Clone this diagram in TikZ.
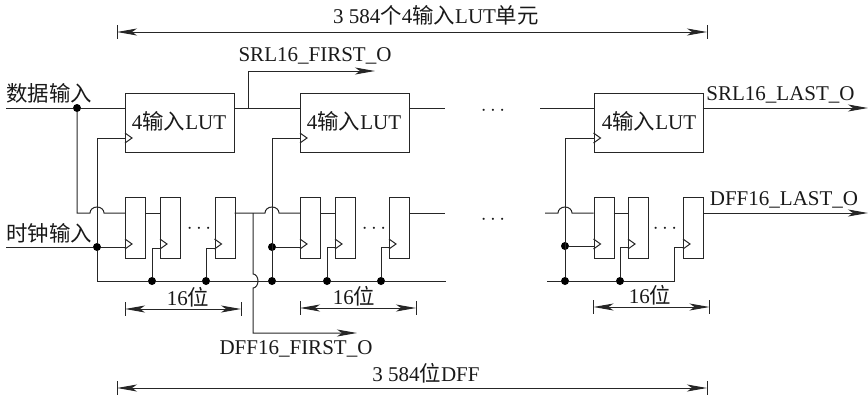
\documentclass[tikz,border=0pt]{standalone}
\usepackage{fontspec}
\setmainfont{Liberation Serif}
\newfontfamily\cjk{Noto Sans CJK SC}[Scale=1.02]
\usetikzlibrary{arrows.meta,calc}
\newcommand\zh[1]{{\cjk #1}}
\tikzset{
  x=1pt,y=-1pt,
  wire/.style={line width=1pt,black!85},
  lutbox/.style={draw=black!85,line width=1pt,minimum width=109pt,minimum height=59pt,inner sep=0pt,anchor=north west},
  ffbox/.style={draw=black!85,line width=1pt,minimum width=20pt,minimum height=61pt,inner sep=0pt,anchor=north west},
  dotn/.style={circle,fill=black,inner sep=0pt,minimum size=8pt},
  lab/.style={font=\fontsize{21}{22}\selectfont,inner sep=0pt,text=black!90},
  sharp/.style={-{Stealth[length=20pt,width=7pt,inset=5pt]}},
  dimarrow/.style={{Stealth[length=20pt,width=7pt,inset=5pt]}-{Stealth[length=20pt,width=7pt,inset=5pt]}},
}
\newcommand\clk[1]{\draw[wire] ($(#1)+(0,-5)$) -- ++(7,5) -- ++(-7,5);}
\newcommand\dimline[3]{%
  \coordinate (#1a) at (#2);\coordinate (#1b) at (#3);
  \draw[wire,dimarrow] (#1a) -- (#1b);
  \draw[wire] ($(#1a)+(0,-7)$) -- ($(#1a)+(0,7)$);
  \draw[wire] ($(#1b)+(0,-7)$) -- ($(#1b)+(0,7)$);}
\begin{document}
\begin{tikzpicture}
\useasboundingbox (0,0) rectangle (868,399);
% boxes
\node[lutbox] (L1) at (125,93) {};
\node[lutbox] (L2) at (300,93) {};
\node[lutbox] (L3) at (593.5,93) {};
\foreach \n/\x in {a1/125,a2/160,a3/214.5,b1/300,b2/335,b3/389,c1/593.5,c2/628,c3/683}{
  \node[ffbox] (\n) at (\x,197) {};
}
% free ends and junctions
\coordinate (din) at (6,108);
\coordinate (cin) at (6,247);
\node[dotn] (jd) at (77,108) {};
\node[dotn] (jc1) at (97,247) {};
\node[dotn] (jc2) at (272,247) {};
\node[dotn] (jc3) at (565,246) {};
\node[dotn] (jb1) at (152,281) {};
\node[dotn] (jb2) at (206,281) {};
\node[dotn] (jb3) at (272,281) {};
\node[dotn] (jb4) at (327,281) {};
\node[dotn] (jb5) at (381,281) {};
\node[dotn] (jb6) at (565,281) {};
\node[dotn] (jb7) at (620,281) {};
% LUT row
\draw[wire] (din) -- (jd) -- (125,108);
\draw[wire] (234,108) -- (300,108);
\draw[wire] (409,108) -- (445,108);
\draw[wire] (540,108) -- (593.5,108);
\draw[wire,sharp] (248,108) -- (248,71) -- (375,71);
\draw[wire,sharp] (702.5,108) -- (868,108);
% LUT clocks
\draw[wire] (jc1) -- (97,138) -- (125,138);
\draw[wire] (jb3) -- (272,138) -- (300,138);
\draw[wire] (jb6) -- (565,138) -- (593.5,138);
\clk{125,138}\clk{300,138}\clk{593.5,138}
% DFF row data
\draw[wire] (jd) -- (77,213) -- (90,213) arc[start angle=180,end angle=0,radius=7pt,y radius=6pt] -- (125,213);
\draw[wire] (145,213) -- (160,213);
\draw[wire] (234.5,213) -- (265,213) arc[start angle=180,end angle=0,radius=7pt,y radius=6pt] -- (300,213);
\draw[wire] (320,213) -- (335,213);
\draw[wire] (409,213) -- (445,213);
\draw[wire] (545,213) -- (558,213) arc[start angle=180,end angle=0,radius=7pt,y radius=6pt] -- (593.5,213);
\draw[wire] (613.5,213) -- (628,213);
\draw[wire,sharp] (703,213) -- (868,213);
% DFF16_FIRST tap with jump over bus
\draw[wire,sharp] (253,213) -- (253,274) arc[start angle=90,end angle=-90,x radius=5pt,y radius=7pt] -- (253,333) -- (357,333);
% clock and bus
\draw[wire] (cin) -- (jc1) -- (125,247);
\draw[wire] (jc1) -- (97,281) -- (jb1) -- (jb2) -- (jb3) -- (jb4) -- (jb5) -- (446,281);
\draw[wire] (547,281) -- (jb6) -- (jb7) -- (674,281) -- (674,247) -- (683,247);
\draw[wire] (jb1) -- (152,248) -- (160,248);
\draw[wire] (jb2) -- (206,248) -- (214.5,248);
\draw[wire] (jc2) -- (300,247);
\draw[wire] (jb4) -- (327,247) -- (335,247);
\draw[wire] (jb5) -- (381,247) -- (389,247);
\draw[wire] (jc3) -- (593.5,246);
\draw[wire] (jb7) -- (620,247) -- (628,247);
\clk{125,244}\clk{160,244}\clk{214.5,244}
\clk{300,244}\clk{335,244}\clk{389,244}
\clk{593.5,244}\clk{628,244}\clk{683,244}
% dimension lines
\dimline{t}{117,32}{707,32}
\dimline{u}{117,388}{707,388}
\dimline{p}{125,309}{241,309}
\dimline{q}{300,308}{416,308}
\dimline{r}{593.5,307}{709.5,307}
% texts
\node[lab,anchor=west] (tdata) at (6,93) {\zh{数据输入}};
\node[lab,anchor=west] (tclk) at (6,233) {\zh{时钟输入}};
\node[lab] (t1) at (179,121) {4\zh{输入}LUT};
\node[lab] (t2) at (354,121) {4\zh{输入}LUT};
\node[lab] (t3) at (649,121) {4\zh{输入}LUT};
\node[lab] (tt) at (436,15) {3 584\zh{个}4\zh{输入}LUT\zh{单元}};
\node[lab] (tu) at (426,373) {3 584\zh{位}DFF};
\node[lab] (tp) at (188,297) {16\zh{位}};
\node[lab] (tq) at (354,296) {16\zh{位}};
\node[lab] (tr) at (650,295) {16\zh{位}};
\node[lab] (s1) at (315,55.5) {SRL16\_FIRST\_O};
\node[lab] (s2) at (780.5,94.5) {SRL16\_LAST\_O};
\node[lab] (s3) at (784,199.5) {DFF16\_LAST\_O};
\node[lab] (s4) at (296,349) {DFF16\_FIRST\_O};
\node[lab] (d1) at (199,229) {$\cdots$};
\node[lab] (d2) at (374,229) {$\cdots$};
\node[lab] (d3) at (665,229) {$\cdots$};
\node[lab] (d4) at (493,111) {$\cdots$};
\node[lab] (d5) at (493,220) {$\cdots$};
\end{tikzpicture}
\end{document}
